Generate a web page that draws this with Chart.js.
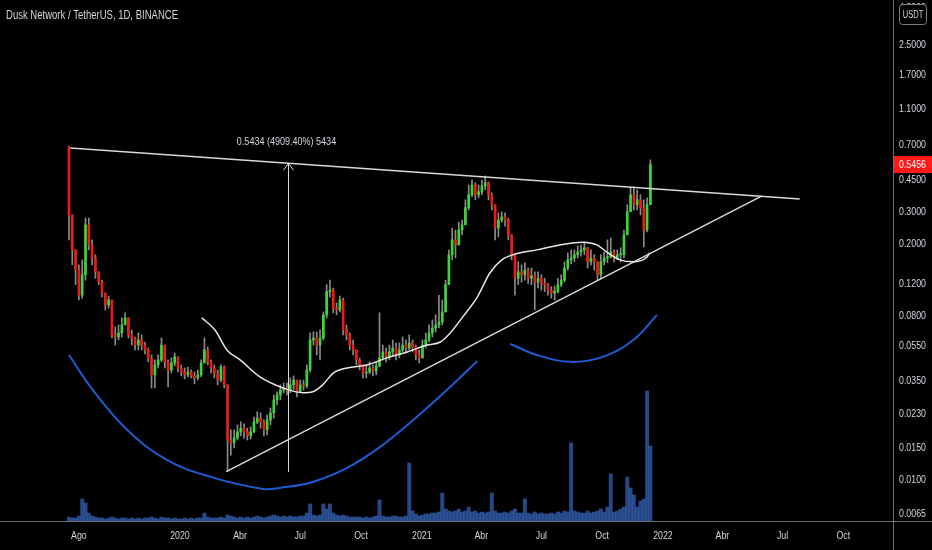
<!DOCTYPE html>
<html><head><meta charset="utf-8">
<script src="https://cdn.jsdelivr.net/npm/chart.js@4.4.0/dist/chart.umd.min.js"></script>
<style>html,body{margin:0;padding:0;background:#000;overflow:hidden}#c{display:block}</style>
</head><body>
<canvas id="c" width="932" height="550"></canvas>
<script>
// ---------- DATA ----------
const chartTitle = 'Dusk Network / TetherUS, 1D, BINANCE';
const quoteCurrency = 'USDT';
const firstCandleDate = '2019-07-17';
const candleStepDays = 5;
const firstOpen = 0.68;
const closes = [
0.288,0.185,0.143,0.104,0.135,0.254,0.197,0.167,0.140,0.123,
0.107,0.092,0.098,0.0629,0.0613,0.0645,0.0714,0.0781,0.0629,0.0605,
0.0553,0.059,0.0553,0.052,0.047,0.0379,0.043,0.0458,0.0553,0.0447,
0.0403,0.0441,0.0476,0.0414,0.0393,0.0379,0.0393,0.0374,0.0365,0.0379,
0.0441,0.052,0.0447,0.0414,0.0384,0.0355,0.0419,0.0334,0.0166,0.016,
0.017,0.0184,0.0193,0.0184,0.0175,0.0184,0.0209,0.0219,0.0209,0.0189,
0.0214,0.0234,0.0276,0.0294,0.0313,0.0321,0.0313,0.0334,0.0355,0.0306,
0.0334,0.0329,0.0403,0.059,0.0605,0.0553,0.0605,0.0811,0.109,0.111,
0.0885,0.0864,0.098,0.067,0.0629,0.0553,0.052,0.0458,0.043,0.0388,
0.0393,0.0414,0.0398,0.0425,0.047,0.0507,0.0476,0.0507,0.0533,0.0488,
0.052,0.0553,0.0533,0.0568,0.054,0.0488,0.047,0.0553,0.059,0.0645,
0.0687,0.0714,0.0742,0.0842,0.119,0.174,0.210,0.197,0.238,0.254,
0.316,0.372,0.421,0.372,0.386,0.416,0.433,0.372,0.328,0.244,
0.270,0.281,0.270,0.224,0.174,0.129,0.140,0.135,0.143,0.129,
0.133,0.123,0.129,0.121,0.119,0.111,0.107,0.109,0.119,0.126,
0.147,0.163,0.167,0.174,0.180,0.185,0.190,0.159,0.167,0.159,
0.135,0.159,0.167,0.169,0.180,0.167,0.174,0.174,0.224,0.300,
0.372,0.328,0.349,0.316,0.238,0.328,0.5456];
const highs = [
0.691,0.254,0.185,0.153,0.163,0.277,0.277,0.210,0.174,0.140,
0.126,0.104,0.103,0.0943,0.0696,0.0714,0.0781,0.0832,0.0781,0.067,
0.0613,0.0645,0.0629,0.0575,0.0533,0.0488,0.0458,0.0488,0.0605,0.0553,
0.0458,0.047,0.05,0.0476,0.043,0.0414,0.0419,0.0403,0.0393,0.0403,
0.0458,0.0605,0.054,0.0458,0.043,0.0403,0.043,0.0425,0.0334,0.0189,
0.0189,0.0201,0.0209,0.0204,0.0193,0.0196,0.0222,0.0237,0.0234,0.0214,
0.0228,0.0249,0.0294,0.0306,0.0334,0.0342,0.0342,0.0365,0.0374,0.0355,
0.0355,0.0355,0.043,0.0645,0.0653,0.0653,0.067,0.0842,0.119,0.126,
0.114,0.0943,0.103,0.1004,0.0714,0.0645,0.059,0.052,0.047,0.043,
0.043,0.0447,0.043,0.0447,0.0832,0.0553,0.0533,0.0553,0.059,0.0568,
0.0568,0.0613,0.059,0.0629,0.059,0.0553,0.052,0.059,0.0645,0.0714,
0.0761,0.0811,0.104,0.098,0.126,0.185,0.244,0.238,0.263,0.270,
0.349,0.421,0.449,0.433,0.421,0.449,0.472,0.438,0.381,0.328,
0.296,0.300,0.296,0.277,0.224,0.174,0.159,0.153,0.157,0.147,
0.147,0.140,0.140,0.135,0.129,0.121,0.116,0.117,0.129,0.135,
0.159,0.178,0.185,0.185,0.195,0.197,0.202,0.190,0.185,0.174,
0.159,0.174,0.180,0.210,0.215,0.185,0.185,0.190,0.238,0.328,
0.411,0.411,0.396,0.372,0.349,0.358,0.579];
const lows = [
0.210,0.153,0.119,0.098,0.100,0.126,0.185,0.153,0.129,0.119,
0.102,0.0864,0.0885,0.0605,0.0553,0.059,0.0613,0.0714,0.0605,0.0553,
0.052,0.052,0.052,0.0494,0.0447,0.0321,0.0321,0.0414,0.0447,0.0414,
0.0325,0.0388,0.0425,0.0393,0.0374,0.036,0.0369,0.0365,0.0338,0.0355,
0.0369,0.0447,0.043,0.0388,0.0365,0.0334,0.0347,0.0321,0.0111,0.0137,
0.015,0.0166,0.0175,0.017,0.0166,0.0168,0.0182,0.0204,0.0193,0.0175,
0.0177,0.0201,0.0219,0.0259,0.0276,0.0302,0.0294,0.0302,0.0313,0.0287,
0.0306,0.0313,0.0321,0.0393,0.0553,0.0488,0.0458,0.059,0.0781,0.1017,
0.0832,0.0811,0.0842,0.0629,0.059,0.052,0.0488,0.043,0.0403,0.0365,
0.0365,0.0384,0.0374,0.0379,0.0419,0.0458,0.0447,0.0458,0.0482,0.0458,
0.047,0.0507,0.05,0.052,0.0507,0.0458,0.0441,0.047,0.0533,0.0575,
0.0613,0.0653,0.0687,0.0714,0.0842,0.119,0.163,0.167,0.210,0.224,
0.254,0.307,0.363,0.349,0.358,0.372,0.396,0.349,0.307,0.210,
0.218,0.263,0.250,0.210,0.163,0.104,0.119,0.123,0.126,0.121,
0.119,0.0864,0.114,0.111,0.109,0.104,0.1004,0.098,0.107,0.116,
0.123,0.143,0.155,0.159,0.167,0.171,0.174,0.147,0.153,0.143,
0.126,0.129,0.153,0.157,0.167,0.159,0.163,0.159,0.167,0.224,
0.300,0.307,0.307,0.288,0.192,0.232,0.328];
const volumes = [
4,3,3,5,22,18,8,5,4,3,
3,2,3,4,3,2,3,3,2,3,
2,3,2,3,3,4,3,2,4,3,
3,2,3,2,2,3,2,3,2,3,
3,8,4,3,3,3,4,3,6,5,
4,3,4,3,4,3,4,5,4,3,
4,5,6,5,4,5,4,5,4,4,
5,5,8,17,6,5,6,17,12,17,
8,6,5,6,5,4,4,4,4,3,
4,3,4,5,21,5,4,4,5,5,
4,4,5,58,10,7,5,6,7,7,
8,8,9,28,12,10,9,10,12,9,
10,14,9,10,8,9,8,9,28,10,
8,8,9,8,10,12,8,8,22,8,
7,9,7,8,7,7,8,7,9,8,
10,9,78,10,9,8,8,10,8,9,
10,12,9,14,47,9,10,12,14,44,
33,26,14,20,22,130,75];

// moving average curve (days since 2020-01-01, price)
const maDays   = [33,53,71,91,121,156,186,201,216,232,253,283,313,344,374,394,409,428,450,469,487,504,540,575,610,631,646,666,686,707,711];
const maValues = [0.0781,0.067,0.052,0.0458,0.0369,0.0321,0.0302,0.0306,0.0334,0.0388,0.0414,0.043,0.047,0.0507,0.0553,0.0575,0.0645,0.0791,0.1017,0.138,0.163,0.174,0.185,0.197,0.204,0.197,0.180,0.163,0.159,0.169,0.178];
// trend lines (days since 2020-01-01, price)
const upperTrendDays = [-166, 938];
const upperTrendValues = [0.674, 0.353];
const lowerTrendDays = [70, 881];
const lowerTrendValues = [0.0111, 0.3667];
// cup arcs
const arc1Days = [-168,-132,-80,-20,50,126,151,201,253,303,353,404,450];
const arc1Values = [0.0488,0.0313,0.0189,0.0129,0.0103,0.00892,0.00904,0.00975,0.01164,0.0152,0.0214,0.0313,0.0452];
const arc2Days = [500,540,590,640,686,722];
const arc2Values = [0.0561,0.0488,0.0447,0.0476,0.059,0.0811];
// measure tool
const measureDay = 163.5;
const measureLow = 0.01107;
const measureHigh = 0.5545;
const measureLabel = '0.5434 (4909.40%) 5434';

const yTickValues = [0.0065,0.01,0.015,0.023,0.035,0.055,0.08,0.12,0.2,0.3,0.45,0.7,1.1,1.7,2.5,4.0];
const xTickDates = ['2019-08-01','2020-01-01','2020-04-01','2020-07-01','2020-10-01','2021-01-01','2021-04-01','2021-07-01','2021-10-01','2022-01-01','2022-04-01','2022-07-01','2022-10-01'];
const xTickLabels = ['Ago','2020','Abr','Jul','Oct','2021','Abr','Jul','Oct','2022','Abr','Jul','Oct'];

// ---------- BUILD ----------
const EPOCH = Date.UTC(2020,0,1);
function dayOf(s){ const p=s.split('-').map(Number); return (Date.UTC(p[0],p[1]-1,p[2])-EPOCH)/86400000; }
const startDay = dayOf(firstCandleDate);
const candleDays = closes.map((_,i)=>startDay + i*candleStepDays);
const opens = closes.map((c,i)=> i===0 ? firstOpen : closes[i-1]);
const UP='#3ad63a', DOWN='#ee1a14';
const FONT = "'Liberation Sans',Arial,sans-serif";
const TEXT = '#d1d4dc';

const wickData = candleDays.map((d,i)=>({x:d, y:[Math.min(lows[i],opens[i],closes[i]), Math.max(highs[i],opens[i],closes[i])]}));
const bodyData = candleDays.map((d,i)=>({x:d, y:[opens[i], closes[i]]}));
const bodyColors = closes.map((c,i)=> c>=opens[i] ? UP : DOWN);
const volData = candleDays.map((d,i)=>({x:d, y:volumes[i]}));
const pts = (xs,ys)=>xs.map((x,i)=>({x:x,y:ys[i]}));

const lineBase = {type:'line', pointRadius:0, yAxisID:'y', xAxisID:'x', fill:false, order:1};

function narrowText(c, txt, x, y, align, sx){
  c.save(); c.translate(x,y); c.scale(sx,1); c.textAlign=align; c.fillText(txt,0,0); c.restore();
}

const overlay = {
  id:'overlay',
  beforeDraw(chart){ const c=chart.ctx; c.save(); c.fillStyle='#000'; c.fillRect(0,0,chart.width,chart.height); c.restore(); },
  afterDraw(chart){
    const c=chart.ctx, a=chart.chartArea, xs=chart.scales.x, ys=chart.scales.y;
    c.save();
    // pane borders
    c.strokeStyle='#6a6d78'; c.lineWidth=1;
    c.beginPath(); c.moveTo(Math.round(a.right)+0.5,0); c.lineTo(Math.round(a.right)+0.5,chart.height);
    c.moveTo(0,Math.round(a.bottom)+0.5); c.lineTo(chart.width,Math.round(a.bottom)+0.5); c.stroke();
    // axis tick labels (positions from the scales)
    c.fillStyle=TEXT; c.font='11px '+FONT; c.textBaseline='middle';
    xs.ticks.forEach((t,i)=>{ narrowText(c, xTickLabels[i], xs.getPixelForValue(t.value), a.bottom+15, 'center', 0.8); });
    ys.ticks.forEach(t=>{ narrowText(c, Number(t.value).toFixed(4), a.right+6, ys.getPixelForValue(t.value), 'left', 0.8); });
    // measure arrow
    const mx=Math.round(xs.getPixelForValue(measureDay))+0.5, my1=ys.getPixelForValue(measureLow), my2=ys.getPixelForValue(measureHigh);
    c.strokeStyle='#d8d8d8'; c.lineWidth=1;
    c.beginPath(); c.moveTo(mx,my1); c.lineTo(mx,my2); c.moveTo(mx-5,my2+7); c.lineTo(mx,my2); c.lineTo(mx+5,my2+7); c.stroke();
    c.fillStyle=TEXT; c.font='11px '+FONT;
    narrowText(c, measureLabel, mx-2, my2-21, 'center', 0.82);
    // last price label
    const last=closes[closes.length-1], ly=ys.getPixelForValue(last);
    c.fillStyle='#ff1a1a'; c.fillRect(a.right+1, ly-8.5, chart.width-a.right-1, 17);
    c.fillStyle='#ffffff'; narrowText(c, last.toFixed(4), a.right+6, ly+0.5, 'left', 0.8);
    // currency box
    c.fillStyle='#000'; c.strokeStyle='#7a7d88';
    c.beginPath(); c.roundRect(a.right+6.5, 4.5, 27, 20, 3); c.fill(); c.stroke();
    c.fillStyle=TEXT; c.font='10px '+FONT; narrowText(c, quoteCurrency, a.right+20, 15, 'center', 0.75);
    // title
    c.font='12px '+FONT; c.fillStyle=TEXT;
    const w=c.measureText(chartTitle).width;
    narrowText(c, chartTitle, 6, 16, 'left', 172/w);
    c.restore();
  }
};

new Chart(document.getElementById('c'), {
  type:'bar',
  data:{datasets:[
    {...lineBase, data:pts(maDays,maValues), borderColor:'#e6e6e6', borderWidth:1.5, cubicInterpolationMode:'monotone'},
    {...lineBase, data:pts(upperTrendDays,upperTrendValues), borderColor:'#d8d8d8', borderWidth:1.5},
    {...lineBase, data:pts(lowerTrendDays,lowerTrendValues), borderColor:'#d8d8d8', borderWidth:1.5},
    {...lineBase, data:pts(arc1Days,arc1Values), borderColor:'#1f5bd0', borderWidth:2, tension:0.4},
    {...lineBase, data:pts(arc2Days,arc2Values), borderColor:'#1f5bd0', borderWidth:2, tension:0.4},
    {type:'bar', data:bodyData, backgroundColor:bodyColors, barThickness:2, minBarLength:1, grouped:false, yAxisID:'y', order:2},
    {type:'bar', data:wickData, backgroundColor:'#8a8a8a', barThickness:1, grouped:false, yAxisID:'y', order:3},
    {type:'bar', data:volData, backgroundColor:'rgba(52,100,185,0.72)', barThickness:3.3, grouped:false, yAxisID:'yv', order:5}
  ]},
  options:{
    responsive:false, animation:false, events:[],
    layout:{padding:0},
    plugins:{legend:{display:false}, tooltip:{enabled:false}, title:{display:false}},
    scales:{
      x:{type:'linear', min:-272.4, max:1079.2, offset:false,
         grid:{display:false, drawTicks:false}, border:{display:false},
         afterBuildTicks:s=>{ s.ticks = xTickDates.map(d=>({value:dayOf(d)})); },
         ticks:{display:false, autoSkip:false},
         afterFit:s=>{ s.height=29; }},
      y:{type:'logarithmic', position:'right', min:0.00594, max:4.40,
         grid:{display:false, drawTicks:false}, border:{display:false},
         afterBuildTicks:s=>{ s.ticks = yTickValues.map(v=>({value:v})); },
         ticks:{display:false, autoSkip:false},
         afterFit:s=>{ s.width=39; }},
      yv:{type:'linear', display:false, min:0, max:521}
    }
  },
  plugins:[overlay]
});
</script>
</body></html>
